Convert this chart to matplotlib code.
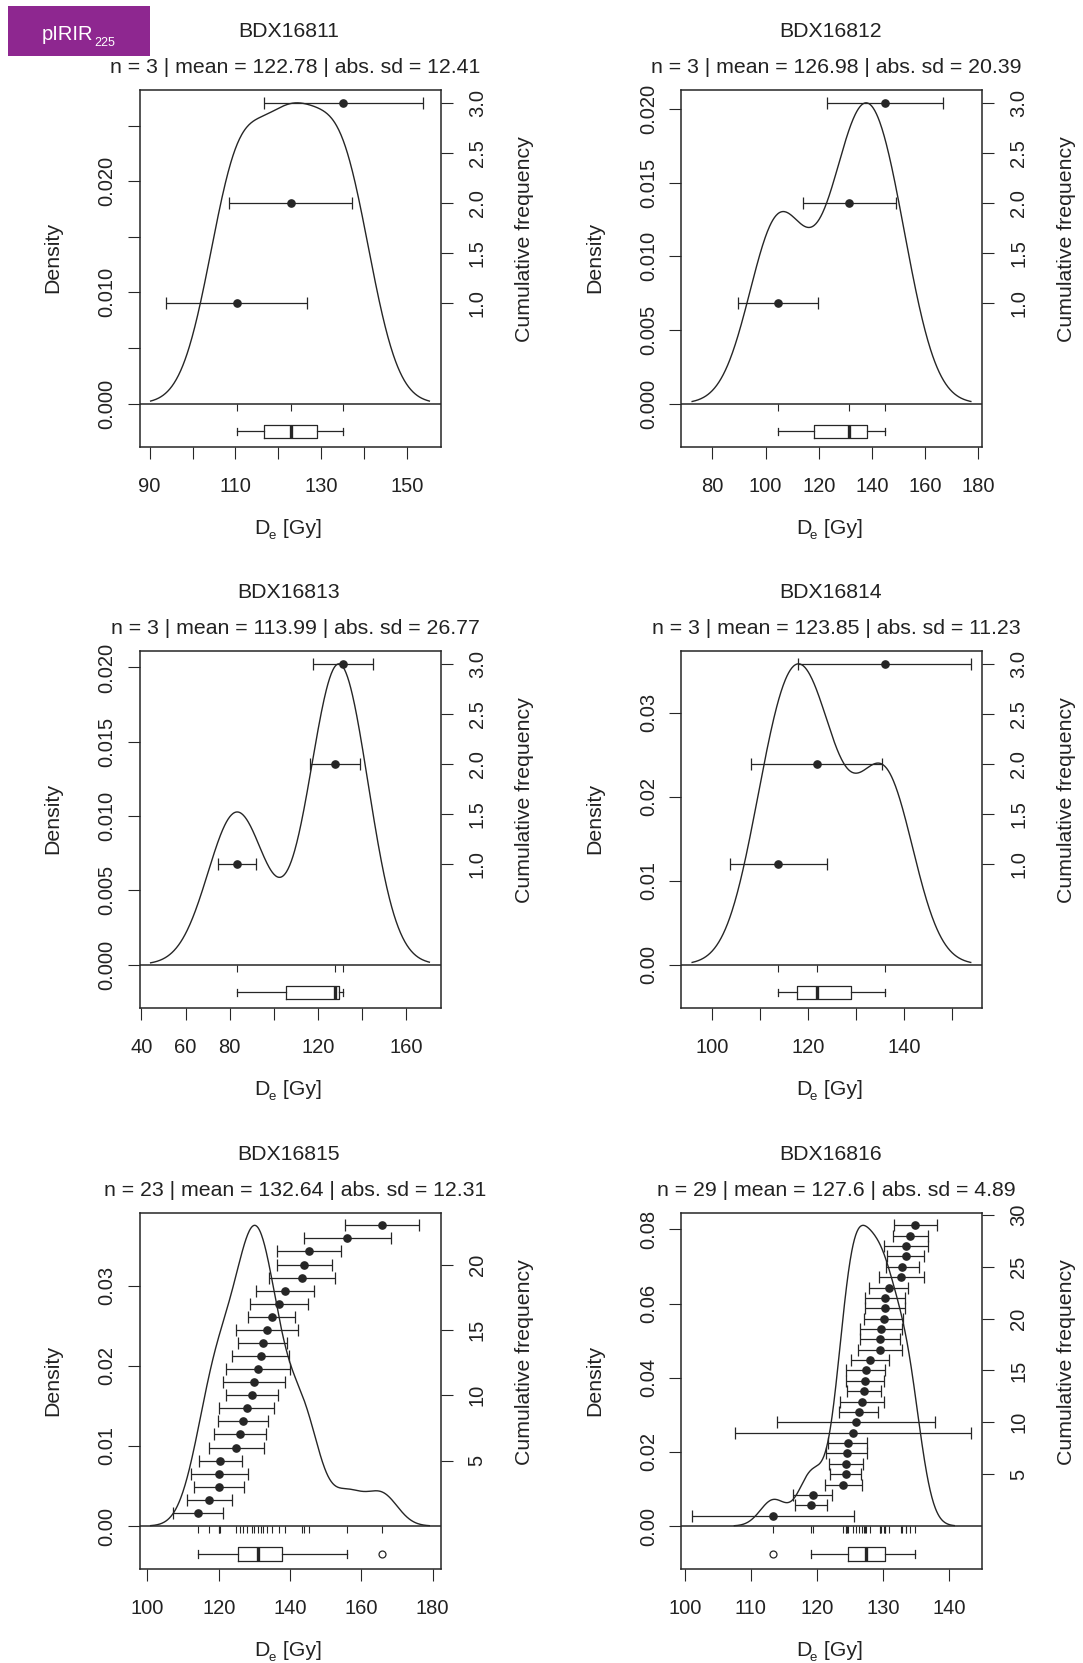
import numpy as np
import matplotlib
matplotlib.use("Agg")
import matplotlib.pyplot as plt
from matplotlib.patches import Rectangle

plt.rcParams['font.family'] = ['Liberation Sans', 'DejaVu Sans']

# ---------------- data ----------------
sample_names = ["BDX16811", "BDX16812", "BDX16813", "BDX16814", "BDX16815", "BDX16816"]
mean_labels = ["122.78", "126.98", "113.99", "123.85", "132.64", "127.6"]
sd_labels = ["12.41", "20.39", "26.77", "11.23", "12.31", "4.89"]

de_16811 = [110.30, 122.92, 135.12]
err_16811 = [16.47, 14.33, 18.48]
de_16812 = [104.75, 131.40, 144.80]
err_16812 = [15.00, 17.53, 21.88]
de_16813 = [83.15, 127.45, 131.37]
err_16813 = [8.64, 11.29, 13.55]
de_16814 = [113.80, 121.80, 135.95]
err_16814 = [10.09, 13.58, 17.94]
de_16815 = [114.23, 117.40, 120.02, 120.20, 120.39, 124.96, 125.90, 126.74,
            127.86, 129.35, 130.01, 130.94, 131.78, 132.34, 133.56, 134.86,
            137.01, 138.60, 143.45, 144.01, 145.32, 156.06, 165.77]
err_16815 = [6.91, 6.30, 7.05, 7.94, 6.02, 7.75, 7.28, 7.00,
             7.75, 7.42, 8.68, 8.92, 7.94, 6.86, 8.78, 6.54,
             8.12, 8.22, 9.24, 7.70, 9.06, 12.18, 10.41]
de_16816 = [113.39, 119.09, 119.34, 124.02, 124.38, 124.38, 124.48, 124.63,
            125.43, 125.94, 126.34, 126.79, 127.15, 127.30, 127.40, 128.10,
            129.56, 129.56, 129.72, 130.12, 130.32, 130.37, 130.87, 132.79,
            132.94, 133.44, 133.44, 134.15, 134.90]
err_16816 = [12.29, 2.37, 2.90, 2.75, 2.34, 2.54, 3.10, 2.92,
             17.88, 11.94, 2.97, 3.30, 2.57, 2.87, 2.95, 2.87,
             3.30, 3.02, 3.20, 2.95, 3.02, 3.02, 2.95, 3.38,
             2.49, 2.82, 3.35, 2.64, 3.25]

x_ticks = [[90, 100, 110, 120, 130, 140, 150],
           [80, 100, 120, 140, 160, 180],
           [40, 60, 80, 100, 120, 140, 160],
           [100, 110, 120, 130, 140, 150],
           [100, 120, 140, 160, 180],
           [100, 110, 120, 130, 140]]
x_tick_labels = [["90", "", "110", "", "130", "", "150"],
                 ["80", "100", "120", "140", "160", "180"],
                 ["40", "60", "80", "", "120", "", "160"],
                 ["100", "", "120", "", "140", ""],
                 ["100", "120", "140", "160", "180"],
                 ["100", "110", "120", "130", "140"]]
dens_ticks = [[0, 0.005, 0.010, 0.015, 0.020, 0.025],
              [0, 0.005, 0.010, 0.015, 0.020],
              [0, 0.005, 0.010, 0.015, 0.020],
              [0, 0.01, 0.02, 0.03],
              [0, 0.01, 0.02, 0.03],
              [0, 0.02, 0.04, 0.06, 0.08]]
dens_tick_labels = [["0.000", "", "0.010", "", "0.020", ""],
                    ["0.000", "0.005", "0.010", "0.015", "0.020"],
                    ["0.000", "0.005", "0.010", "0.015", "0.020"],
                    ["0.00", "0.01", "0.02", "0.03"],
                    ["0.00", "0.01", "0.02", "0.03"],
                    ["0.00", "0.02", "0.04", "0.06", "0.08"]]
cum_ticks = [[1.0, 1.5, 2.0, 2.5, 3.0]] * 4 + [[5, 10, 15, 20], [5, 10, 15, 20, 25, 30]]
cum_tick_labels = [["1.0", "1.5", "2.0", "2.5", "3.0"]] * 4 + \
                  [["5", "10", "15", "20"], ["5", "10", "15", "20", "25", "30"]]

datasets = [(de_16811, err_16811), (de_16812, err_16812), (de_16813, err_16813),
            (de_16814, err_16814), (de_16815, err_16815), (de_16816, err_16816)]

# ---------------- layout ----------------
W, H = 1083, 1663
fig = plt.figure(figsize=(W / 100, H / 100), dpi=100)
renderer = fig.canvas.get_renderer()


def fx(px):
    return px / W


def fy(py):
    return 1 - py / H


def compose(parts, cx_px, base_px, color, align='center', left_px=None):
    """parts: list of (text, fontsize, dy_px_down, dx_px_before)"""
    texts = []
    widths = []
    for s, size, dy, dx in parts:
        t = fig.text(0, 0, s, fontsize=size, color=color, ha='left', va='baseline')
        w = t.get_window_extent(renderer).width
        texts.append(t)
        widths.append(w)
    total = sum(widths) + sum(p[3] for p in parts)
    x = cx_px - total / 2 if align == 'center' else left_px
    for t, w, (s, size, dy, dx) in zip(texts, widths, parts):
        x += dx
        t.set_position((fx(x), fy(base_px + dy)))
        x += w


col_left = [139.5, 681.0]
row_top = [90.2, 651.2, 1212.7]
box_w, box_h = 301.0, 356.6
TOP, BOT = 1.042, 0.144
ink = '#222222'
lc = '#262626'
FS = 15.3
TFS = 14.5

for i, (de, err) in enumerate(datasets):
    r, c = divmod(i, 2)
    x0, y0 = col_left[c], row_top[r]
    ax = fig.add_axes([fx(x0), fy(y0 + box_h), box_w / W, box_h / H])
    de = np.asarray(de, dtype=float)
    err = np.asarray(err, dtype=float)
    n = len(de)

    # Gaussian KDE (bandwidth nrd0), as in the original plot
    sd = de.std(ddof=1)
    iqr = np.percentile(de, 75) - np.percentile(de, 25)
    bw = 0.9 * min(sd, iqr / 1.34) * n ** -0.2
    grid = np.linspace(de.min() - 3 * bw, de.max() + 3 * bw, 512)
    dens = np.exp(-0.5 * ((grid[:, None] - de[None, :]) / bw) ** 2).sum(axis=1) / (n * bw * np.sqrt(2 * np.pi))
    dmax = dens.max()

    lo = min(grid[0], (de - err).min())
    hi = max(grid[-1], (de + err).max())
    pad = 0.04 * (hi - lo)
    ax.set_xlim(lo - pad, hi + pad)
    ax.set_ylim(-BOT * dmax, TOP * dmax)

    ax.plot(grid, dens, color=lc, lw=1.0, zorder=3)
    ax.axhline(0, color=lc, lw=1.1, zorder=3)
    ax.vlines(de, -0.024 * dmax, 0, color=lc, lw=0.8)

    ax.boxplot(de, orientation='horizontal', positions=[-0.093 * dmax],
               widths=0.044 * dmax, manage_ticks=False, capwidths=0.024 * dmax,
               boxprops=dict(color=lc, lw=0.9), whiskerprops=dict(color=lc, lw=0.9),
               capprops=dict(color=lc, lw=0.9), medianprops=dict(color=lc, lw=2.4),
               flierprops=dict(marker='o', markerfacecolor='none', markeredgecolor=lc,
                               markersize=5, markeredgewidth=0.9))

    ax2 = ax.twinx()
    ax2.set_ylim(-BOT * n, TOP * n)
    ax2.errorbar(de, np.arange(1, n + 1), xerr=err, fmt='o', color=lc, ms=5.2,
                 capsize=4.3, elinewidth=0.9, capthick=0.9)

    for s in ax.spines.values():
        s.set_linewidth(1.1)
        s.set_color(lc)
    for s in ax2.spines.values():
        s.set_visible(False)

    ax.set_xticks(x_ticks[i])
    ax.set_xticklabels(x_tick_labels[i])
    ax.tick_params(axis='x', direction='out', length=8.6, width=0.8, pad=13,
                   labelsize=TFS, colors=lc, labelcolor=ink)
    ax.set_yticks(dens_ticks[i])
    ax.set_yticklabels(dens_tick_labels[i], rotation=90, va='center')
    ax.tick_params(axis='y', direction='out', length=8.6, width=0.8, pad=8,
                   labelsize=TFS, colors=lc, labelcolor=ink)
    ax2.set_yticks(cum_ticks[i])
    ax2.set_yticklabels(cum_tick_labels[i], rotation=90, va='center')
    ax2.tick_params(axis='y', direction='out', length=8.6, width=0.8, pad=11,
                    labelsize=TFS, colors=lc, labelcolor=ink)

    cx = x0 + box_w / 2
    fig.text(fx(cx - 1), fy(y0 - 53), sample_names[i], ha='center', va='baseline',
             fontsize=FS, color=ink)
    fig.text(fx(cx + 5), fy(y0 - 17),
             f"n = {n} | mean = {mean_labels[i]} | abs. sd = {sd_labels[i]}",
             ha='center', va='baseline', fontsize=FS, color=ink)
    fig.text(fx(x0 - 86.5), fy(y0 + box_h / 2 - 11), 'Density', rotation=90,
             ha='center', va='center', fontsize=FS, color=ink)
    fig.text(fx(x0 + box_w + 84), fy(y0 + box_h / 2 - 29), 'Cumulative frequency',
             rotation=90, ha='center', va='center', fontsize=FS, color=ink)
    compose([('D', FS, 0, 0), ('e', 9.5, 5, -1.5), (' [Gy]', FS, 0, 1)],
            cx - 2, y0 + box_h + 87, ink)

# badge
fig.add_artist(Rectangle((fx(7.6), fy(55.7)), (149.7 - 7.6) / W, (55.7 - 5.8) / H,
                         transform=fig.transFigure, facecolor='#8E2790',
                         edgecolor='none'))
compose([('pIRIR', 14.5, 0, 0), ('225', 9.0, 6.5, 0.5)], 0, 39.6, 'white',
        align='left', left_px=42)

fig.savefig('out.png', dpi=100)
